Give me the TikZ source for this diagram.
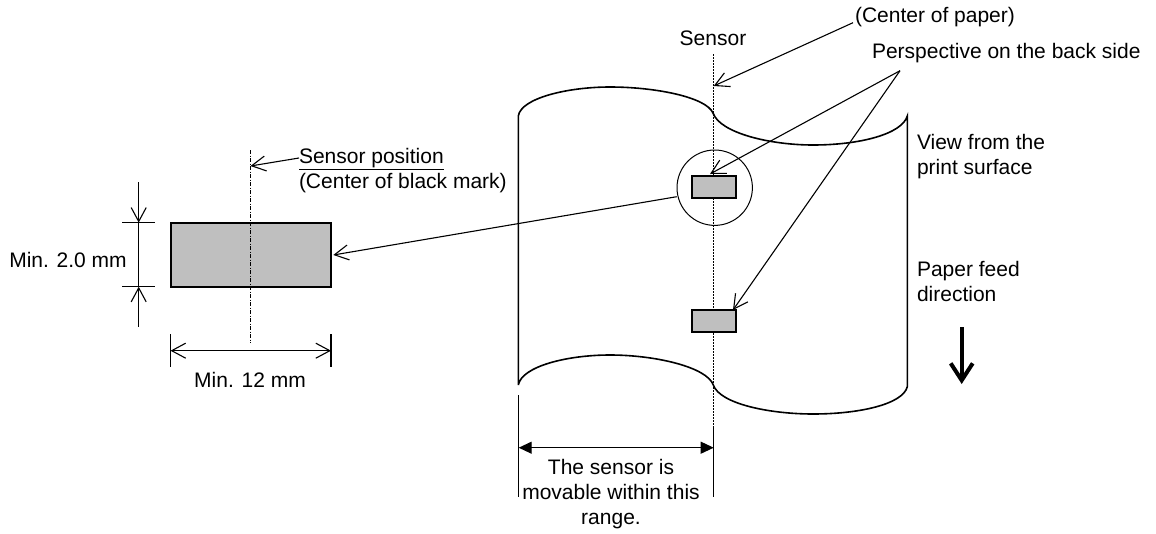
\documentclass[tikz,border=0pt]{standalone}
\usepackage{fontspec}
\setmainfont{Liberation Sans}
\usetikzlibrary{arrows.meta}
\begin{document}
\begin{tikzpicture}[x=1pt,y=-1pt,
  lbl/.style={inner sep=0pt,outer sep=0pt,font=\fontsize{21}{25}\selectfont,text=black},
  lblc/.style={lbl,align=center},
  lbll/.style={lbl,align=left},
  thin line/.style={draw=black,line width=1.1pt},
  paper/.style={draw=black,line width=1.6pt},
  mark box/.style={draw=black,fill=black!25,line width=2pt},
  open/.style={-{Straight Barb[length=14pt,width=15pt,line width=1.1pt]},thin line},
  solid tip/.style={{Triangle[length=13pt,width=12pt]}-{Triangle[length=13pt,width=12pt]},thin line},
  centre line/.style={draw=black,line width=0.9pt,dash pattern=on 1.5pt off 1.5pt},
  chain line/.style={draw=black,line width=0.9pt,dash pattern=on 4pt off 1.5pt on 1pt off 1.5pt}]
\useasboundingbox (0,0) rectangle (1156,533);

% left black mark
\coordinate (dashtop) at (250.5,150);
\coordinate (dashbot) at (250.5,343);
\node[mark box,minimum width=160.5pt,minimum height=64pt,inner sep=0pt,anchor=center] (bigmark) at (250.75,254.7) {};
\draw[chain line] (dashtop) -- (dashbot);
\coordinate (dimAtop) at (138.7,182);
\coordinate (dimAu) at (138.7,222.7);
\coordinate (dimAl) at (138.7,286.7);
\coordinate (dimAbot) at (138.7,326.7);
\coordinate (tk1a) at (122,222.7); \coordinate (tk1b) at (155,222.7);
\coordinate (tk2a) at (122,286.7); \coordinate (tk2b) at (155,286.7);
\draw[thin line] (tk1a) -- (tk1b);
\draw[thin line] (tk2a) -- (tk2b);
\draw[open] (dimAtop) -- (dimAu);
\draw[open] (dimAbot) -- (dimAl);
\draw[thin line] (dimAu) -- (dimAl);
\coordinate (tk3a) at (170.5,334); \coordinate (tk3b) at (170.5,367);
\coordinate (tk4a) at (331,334); \coordinate (tk4b) at (331,367);
\coordinate (dimBl) at (170.5,350.7); \coordinate (dimBr) at (331,350.7);
\draw[thin line] (tk3a) -- (tk3b);
\draw[thin line] (tk4a) -- (tk4b);
\draw[thin line,{Straight Barb[length=14pt,width=15pt,line width=1.1pt]}-{Straight Barb[length=14pt,width=15pt,line width=1.1pt]}] (dimBl) -- (dimBr);
\node[lblc] (min2) at (68,260) {Min. 2.0 mm};
\node[lblc] (min12) at (250,380) {Min. 12 mm};
\node[lbll,anchor=north west] (senspos) at (299,148) {\underline{Sensor position}\\(Center of black mark)};
\coordinate (sposL) at (299,158);
\coordinate (sposT) at (250.5,166);
\draw[open] (sposL) -- (sposT);

% paper
\coordinate (tl) at (518.3,116); \coordinate (tm) at (713,113); \coordinate (tr) at (907.3,116);
\coordinate (bl) at (518.3,385); \coordinate (bm) at (713.3,385); \coordinate (br) at (907.3,386.7);
\draw[paper] (bl) -- (tl)
  .. controls (521,98) and (568,87) .. (610,87)
  .. controls (655,87) and (706,97) .. (713,113)
  .. controls (720,133) and (770,145) .. (813,145)
  .. controls (860,145) and (902,134) .. (907.3,116) -- (br)
  .. controls (903,404) and (860,414) .. (813,414)
  .. controls (770,414) and (720,404) .. (713.3,385)
  .. controls (707,367) and (655,355) .. (610,355)
  .. controls (568,355) and (522,366) .. (518.3,385);

% centre line
\coordinate (ctop) at (713.7,54);
\coordinate (cbot) at (713.7,428);
\coordinate (cend) at (713.7,497);
\draw[centre line] (ctop) -- (cbot);
\draw[thin line] (cbot) -- (cend);

% marks and circle
\node[draw=black,line width=1pt,circle,minimum size=75.4pt,inner sep=0pt] (lens) at (714.7,187.7) {};
\node[mark box,minimum width=43.7pt,minimum height=22.3pt,inner sep=0pt,anchor=center] (mark1) at (713.85,186.85) {};
\node[mark box,minimum width=43.7pt,minimum height=22.3pt,inner sep=0pt,anchor=center] (mark2) at (713.85,321.15) {};

% leaders
\coordinate (lensL) at (676.7,196.7);
\coordinate (bigT) at (333.3,255);
\draw[open] (lensL) -- (bigT);
\node[lblc] (sensor) at (713,38) {Sensor};
\node[lbll,anchor=west] (cop) at (855,17) {(Center of paper)};
\coordinate (copL) at (853,22.7);
\coordinate (copT) at (713.7,86);
\draw[open] (copL) -- (copT);
\node[lbll,anchor=west] (persp) at (872,53) {Perspective on the back side};
\coordinate (pfork) at (900,70.7);
\coordinate (m1t) at (710,174);
\coordinate (m2t) at (733,310);
\draw[open] (pfork) -- (m1t);
\draw[open] (pfork) -- (m2t);
\node[lbll,anchor=north west] (view) at (917,134) {View from the\\print surface};
\node[lbll,anchor=north west] (feed) at (917,261) {Paper feed\\direction};
\coordinate (fa) at (961.7,327);
\coordinate (fb) at (961.7,384);
\draw[line width=4pt,-{Straight Barb[length=17pt,width=22pt,line width=4pt]}] (fa) -- (fb);

% range
\coordinate (rl0) at (518.7,395);
\coordinate (rl1) at (518.7,497);
\coordinate (ra) at (518.7,447.7);
\coordinate (rb) at (713.7,447.7);
\draw[thin line] (rl0) -- (rl1);
\draw[solid tip] (ra) -- (rb);
\node[lblc,anchor=north] (range) at (611,459) {The sensor is\\movable within this\\range.};
\end{tikzpicture}
\end{document}
